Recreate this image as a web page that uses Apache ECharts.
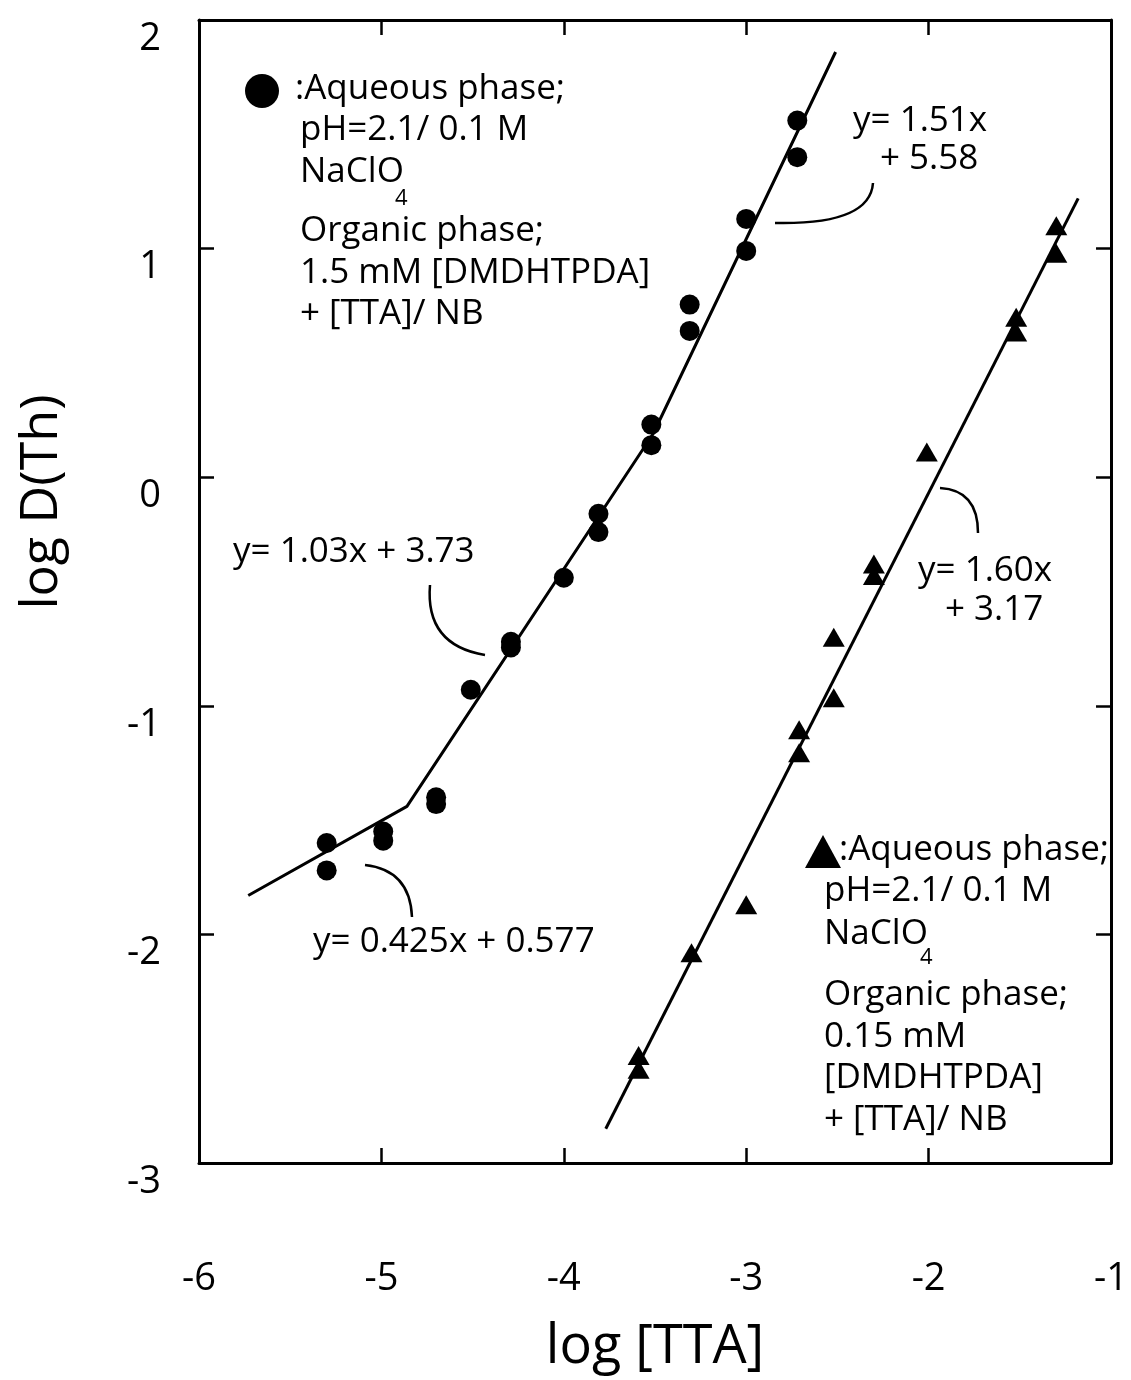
<!DOCTYPE html>
<html>
<head>
<meta charset="utf-8">
<script src="https://cdn.jsdelivr.net/npm/echarts@6/dist/echarts.min.js"></script>
<style>
html,body{margin:0;padding:0;background:#fff;}
#chart{width:1131px;height:1380px;}
</style>
</head>
<body>
<div id="chart"></div>
<script>
// ---- data ----
const xTicks = [-6, -5, -4, -3, -2, -1];
const yTicks = [-3, -2, -1, 0, 1, 2];

// Circles: 1.5 mM DMDHTPDA
const circleX = [-5.30, -5.30, -4.99, -4.99, -4.70, -4.70, -4.51, -4.29, -4.29, -4.00, -3.81, -3.81, -3.52, -3.52, -3.31, -3.31, -3.00, -3.00, -2.72, -2.72];
const circleY = [-1.60, -1.72, -1.55, -1.59, -1.40, -1.43, -0.93, -0.72, -0.745, -0.44, -0.16, -0.24, 0.23, 0.14, 0.755, 0.64, 1.13, 0.99, 1.56, 1.40];

// Triangles: 0.15 mM DMDHTPDA
const triX = [-3.59, -3.59, -3.30, -3.00, -2.71, -2.71, -2.52, -2.52, -2.30, -2.30, -2.01, -1.52, -1.52, -1.30, -1.30];
const triY = [-2.53, -2.59, -2.08, -1.87, -1.105, -1.205, -0.70, -0.965, -0.38, -0.43, 0.11, 0.70, 0.635, 1.10, 0.98];

// Fitted lines (as drawn)
const fitCircleX = [-5.73, -4.86, -3.51, -2.51];
const fitCircleY = [-1.83, -1.44, 0.19, 1.86];
const fitTriX = [-3.77, -1.18];
const fitTriY = [-2.85, 1.22];

const zip = (a, b) => a.map((v, i) => [v, b[i]]);

const FONT = '"Open Sans", "DejaVu Sans", sans-serif';
const txt = (s, x, y, size, align) => ({
  type: 'text', x: x, y: y, z: 10,
  style: { text: s, fill: '#000', font: (size || 35) + 'px ' + FONT, align: align || 'left', verticalAlign: 'middle' }
});
const curve = (x1, y1, cx, cy, x2, y2) => ({
  type: 'bezierCurve', z: 10,
  shape: { x1: x1, y1: y1, cpx1: cx, cpy1: cy, x2: x2, y2: y2 },
  style: { stroke: '#000', lineWidth: 2.5, fill: null }
});

const chart = echarts.init(document.getElementById('chart'), null, { renderer: 'canvas' });

const axisCommon = {
  type: 'value', splitLine: { show: false },
  axisLine: { show: true, onZero: false, lineStyle: { color: '#000', width: 3 } },
  axisTick: { show: true, inside: true, length: 15, lineStyle: { color: '#000', width: 2.5 } }
};

chart.setOption({
  animation: false,
  backgroundColor: '#fff',
  grid: { left: 199, top: 20, width: 913, height: 1145 },
  xAxis: [
    Object.assign({}, axisCommon, {
      position: 'bottom', min: -6, max: -1, interval: 1,
      name: 'log [TTA]', nameLocation: 'middle', nameGap: 158,
      nameTextStyle: { fontSize: 54, fontFamily: FONT, color: '#000' },
      axisLabel: { show: true, margin: 97, fontSize: 38, fontFamily: FONT, color: '#000',
        formatter: v => xTicks.includes(v) ? String(v) : '' }
    }),
    Object.assign({}, axisCommon, {
      position: 'top', min: -6, max: -1, interval: 1, axisLabel: { show: false }
    })
  ],
  yAxis: [
    Object.assign({}, axisCommon, {
      position: 'left', min: -3, max: 2, interval: 1,
      axisLabel: { show: true, margin: 38, fontSize: 38, fontFamily: FONT, color: '#000',
        verticalAlign: 'top',
        formatter: v => yTicks.includes(v) ? String(v) : '' }
    }),
    Object.assign({}, axisCommon, {
      position: 'right', min: -3, max: 2, interval: 1, axisLabel: { show: false }
    })
  ],
  series: [
    {
      type: 'line', data: zip(fitCircleX, fitCircleY), showSymbol: false, symbol: 'none',
      lineStyle: { color: '#000', width: 3 }, z: 2
    },
    {
      type: 'line', data: zip(fitTriX, fitTriY), showSymbol: false, symbol: 'none',
      lineStyle: { color: '#000', width: 3 }, z: 2
    },
    {
      type: 'scatter', data: zip(circleX, circleY), symbol: 'circle', symbolSize: 20,
      itemStyle: { color: '#000', opacity: 1 }, z: 3
    },
    {
      type: 'scatter', data: zip(triX, triY), symbol: 'triangle', symbolSize: [22, 19],
      itemStyle: { color: '#000', opacity: 1 }, z: 3
    }
  ],
  graphic: [
    // y axis title
    { type: 'text', x: 42, y: 502, rotation: Math.PI / 2, z: 10,
      style: { text: 'log D(Th)', fill: '#000', font: '52px ' + FONT, align: 'center', verticalAlign: 'middle' } },

    // top-left legend block
    { type: 'circle', shape: { cx: 262, cy: 91, r: 17 }, style: { fill: '#000' }, z: 10 },
    txt(':Aqueous phase;', 295, 89),
    txt('pH=2.1/ 0.1 M', 300, 130),
    txt('NaClO', 300, 172),
    txt('4', 395, 199, 22),
    txt('Organic phase;', 300, 231),
    txt('1.5 mM [DMDHTPDA]', 300, 273),
    txt('+ [TTA]/ NB', 300, 314),

    // bottom-right legend block
    { type: 'polygon', shape: { points: [[823, 835], [805, 868], [841, 868]] }, style: { fill: '#000' }, z: 10 },
    txt(':Aqueous phase;', 839, 850),
    txt('pH=2.1/ 0.1 M', 824, 891),
    txt('NaClO', 824, 934),
    txt('4', 920, 958, 22),
    txt('Organic phase;', 824, 995),
    txt('0.15 mM', 824, 1037),
    txt('[DMDHTPDA]', 824, 1078),
    txt('+ [TTA]/ NB', 824, 1120),

    // equations
    txt('y= 1.51x', 853, 121),
    txt('+ 5.58', 880, 159),
    txt('y= 1.03x + 3.73', 233, 552),
    txt('y= 1.60x', 918, 571),
    txt('+ 3.17', 945, 610),
    txt('y= 0.425x + 0.577', 313, 942),

    // leader curves
    curve(775, 223, 870, 225, 873, 183),
    curve(430, 585, 425, 645, 485, 655),
    curve(940, 488, 978, 490, 978, 533),
    curve(365, 865, 410, 870, 412, 917)
  ]
});
</script>
</body>
</html>
